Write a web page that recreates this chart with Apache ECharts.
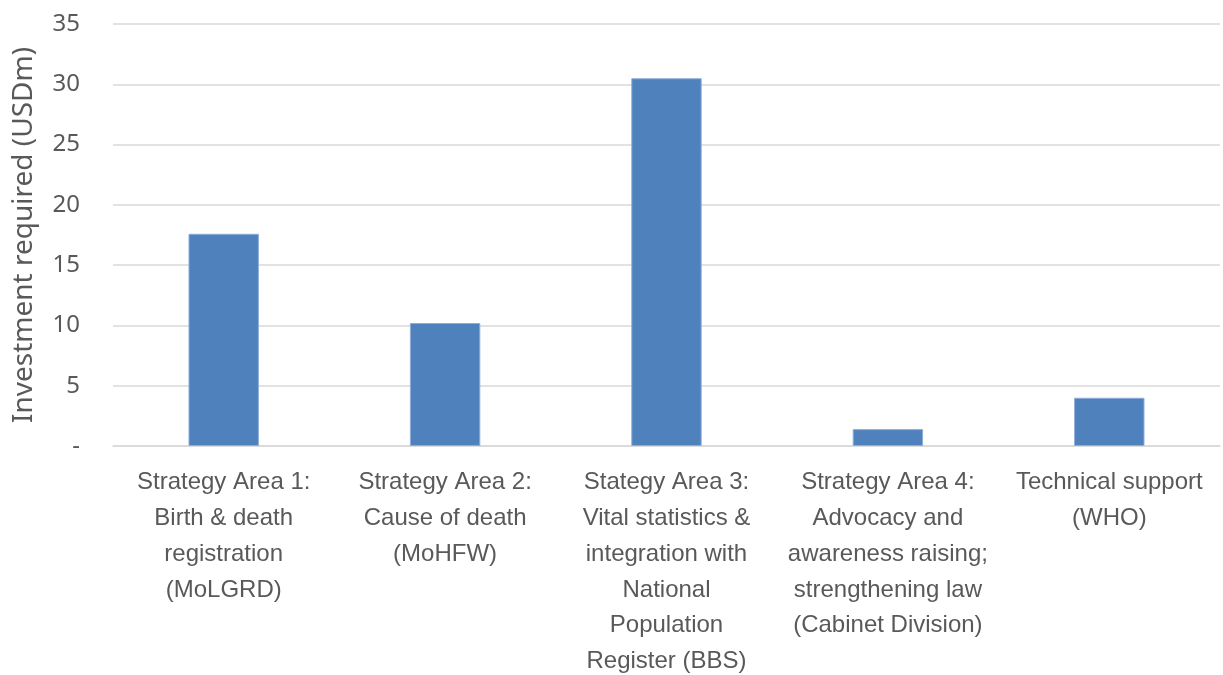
<!DOCTYPE html>
<html><head><meta charset="utf-8">
<script src="https://cdn.jsdelivr.net/npm/echarts@6/dist/echarts.min.js"></script>
<style>html,body{margin:0;padding:0;background:#fff}#c{width:1223px;height:675px}</style>
</head><body><div id="c"></div>
<script>
const categories = [
  "Strategy Area 1:\nBirth & death\nregistration\n(MoLGRD)",
  "Strategy Area 2:\nCause of death\n(MoHFW)",
  "Stategy Area 3:\nVital statistics &\nintegration with\nNational\nPopulation\nRegister (BBS)",
  "Strategy Area 4:\nAdvocacy and\nawareness raising;\nstrengthening law\n(Cabinet Division)",
  "Technical support\n(WHO)"
];
const values = [17.6, 10.2, 30.5, 1.4, 4.0];
const yTicks = [0, 5, 10, 15, 20, 25, 30, 35];

const chart = echarts.init(document.getElementById('c'));
chart.setOption({
  animation: false,
  grid: {left: 113, right: 3, top: 24, bottom: 229, containLabel: false, outerBoundsMode: 'none'},
  xAxis: {
    type: 'category', data: categories,
    axisLine: {show: true, lineStyle: {color: '#d9d9d9', width: 1.5}},
    axisTick: {show: false},
    axisLabel: {color: '#595959', fontFamily: 'Liberation Sans, sans-serif', fontSize: 24, lineHeight: 35.7, margin: 19, interval: 0}
  },
  yAxis: {
    type: 'value', min: 0, max: 35, interval: 5,
    name: 'Investment required (USDm)', nameLocation: 'middle', nameGap: 75,
    nameTextStyle: {color: '#595959', fontFamily: 'Noto Sans, sans-serif', fontSize: 28},
    axisLine: {show: false}, axisTick: {show: false},
    splitLine: {lineStyle: {color: '#d9d9d9', width: 1.5}},
    axisLabel: {color: '#595959', fontFamily: 'Noto Sans, sans-serif', fontSize: 24, margin: 33,
      formatter: v => (yTicks.includes(v) ? (v === 0 ? '-' : String(v)) : '')}
  },
  series: [{
    type: 'bar', data: values, barWidth: '31.8%',
    itemStyle: {color: '#4f81bd', borderColor: '#8eaedb', borderWidth: 1}
  }]
});
</script></body></html>
